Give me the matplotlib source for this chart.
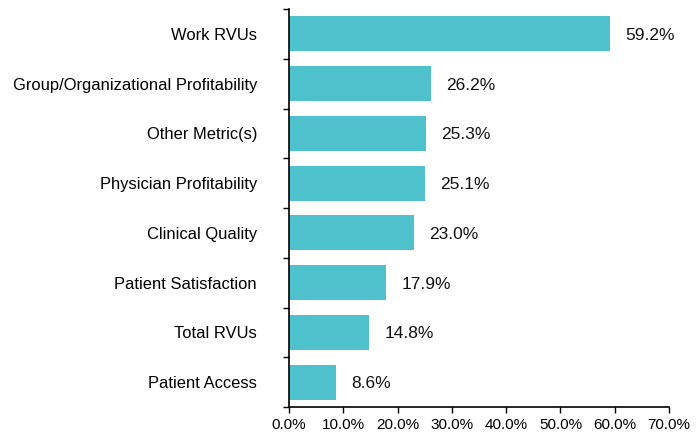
import matplotlib.pyplot as plt
import numpy as np

plt.rcParams['font.family'] = ['Liberation Sans', 'DejaVu Sans']

### data
categories = ['Work RVUs', 'Group/Organizational Profitability', 'Other Metric(s)',
              'Physician Profitability', 'Clinical Quality', 'Patient Satisfaction',
              'Total RVUs', 'Patient Access']
values = [59.2, 26.2, 25.3, 25.1, 23.0, 17.9, 14.8, 8.6]
xticks = [0, 10, 20, 30, 40, 50, 60, 70]

fig = plt.figure(figsize=(6.98, 4.34), dpi=100)
ax = fig.add_axes([289/698, 1-407/434, 380/698, 398/434])

y = np.arange(len(categories))
ax.barh(y, values, height=0.7, color='#4FC1CC')

for yi, v in zip(y, values):
    ax.annotate('{:.1f}%'.format(v), (v, yi), xytext=(11, -1), textcoords='offset points',
                ha='left', va='center', fontsize=12.5, color='#111111')

ax.set_xlim(0, 70)
ax.set_ylim(len(categories) - 0.5, -0.5)

ax.set_xticks(xticks)
ax.set_xticklabels(['{:.1f}%'.format(t) for t in xticks], fontsize=11)
ax.tick_params(axis='x', direction='out', length=4, width=1, pad=4)

ax.set_yticks(y)
ax.set_yticklabels(categories, fontsize=11.9)
ax.set_yticks(np.arange(-0.5, len(categories)), minor=True)
ax.tick_params(axis='y', which='major', length=0, pad=23)
ax.tick_params(axis='y', which='minor', direction='out', length=4, width=1)

for s in ['top', 'right']:
    ax.spines[s].set_visible(False)
ax.spines['left'].set_linewidth(1.2)
ax.spines['bottom'].set_linewidth(1.2)

fig.savefig('out.png', dpi=100)
